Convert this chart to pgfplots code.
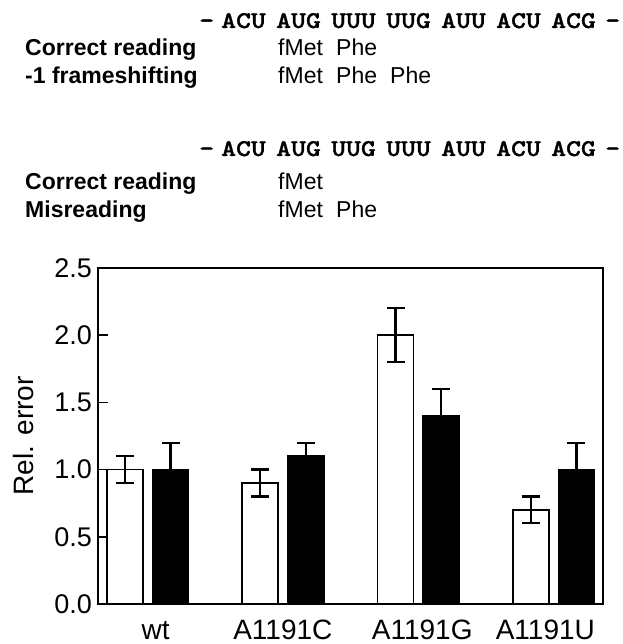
\documentclass[border=0pt]{standalone}
\usepackage{fontspec}
\setmainfont{Liberation Sans}
\newfontfamily\codfont[FakeBold=1.2]{lmmonolt10-bold.otf}
\usepackage{pgfplots}
\pgfplotsset{compat=1.18}
\begin{document}
\begin{tikzpicture}[x=1pt,y=1pt]
\def\codf{\fontsize{24}{24}\selectfont\codfont}
\def\labf{\fontsize{23}{23}\selectfont\bfseries}
\def\txtf{\fontsize{23}{23}\selectfont}
\tikzset{cod/.style={anchor=base west,inner sep=0pt,font=\codf,xscale=1.18,transform shape}}
% block 1
\foreach \x/\t in {199/-,221/ACU,276/AUG,331/UUU,386/UUG,441/AUU,496/ACU,551/ACG,605/-}
  \node[cod] at (\x,616) {\t};
\node[anchor=base west,inner sep=0pt,font=\labf] at (25,588) {Correct reading};
\node[anchor=base west,inner sep=0pt,font=\labf] at (25,560) {-1 frameshifting};
\node[anchor=base west,inner sep=0pt,font=\txtf] at (278,588) {fMet};
\node[anchor=base west,inner sep=0pt,font=\txtf] at (336,588) {Phe};
\node[anchor=base west,inner sep=0pt,font=\txtf] at (278,560) {fMet};
\node[anchor=base west,inner sep=0pt,font=\txtf] at (336,560) {Phe};
\node[anchor=base west,inner sep=0pt,font=\txtf] at (390,560) {Phe};
% block 2
\foreach \x/\t in {199/-,221/ACU,276/AUG,331/UUG,386/UUU,441/AUU,496/ACU,551/ACG,605/-}
  \node[cod] at (\x,488) {\t};
\node[anchor=base west,inner sep=0pt,font=\labf] at (25,454) {Correct reading};
\node[anchor=base west,inner sep=0pt,font=\labf] at (25,426) {Misreading};
\node[anchor=base west,inner sep=0pt,font=\txtf] at (278,454) {fMet};
\node[anchor=base west,inner sep=0pt,font=\txtf] at (278,426) {fMet};
\node[anchor=base west,inner sep=0pt,font=\txtf] at (336,426) {Phe};
\begin{axis}[
  at={(98pt,40pt)}, anchor=south west,
  scale only axis, width=505pt, height=336pt,
  xmin=-0.366, xmax=3.366, ymin=0, ymax=2.5,
  ytick={0,0.5,1,1.5,2,2.5},
  yticklabel style={/pgf/number format/fixed,/pgf/number format/fixed zerofill,/pgf/number format/precision=1,
    font=\fontsize{27}{27}\selectfont, inner sep=0pt, xshift=-6pt},
  /pgf/number format/assume math mode=true,
  xtick={0.06,1,2.03,2.94},
  xticklabels={wt,A1191C,A1191G,A1191U},
  xticklabel style={font=\fontsize{28}{28}\selectfont, anchor=base, inner sep=0pt, yshift=-35pt},
  x tick style={draw=none},
  ytick pos=left,
  tick align=inside,
  major tick length=10pt,
  y tick style={line width=1.5pt, black},
  axis line style={line width=1.5pt},
  ylabel={Rel. error},
  ylabel style={font=\fontsize{28}{28}\selectfont, at={(axis description cs:-0.148,0.5)}, anchor=center},
  error bars/error bar style={line width=2.2pt, black, solid},
  error bars/error mark options={rotate=90, mark size=9pt, line width=2.2pt, black, solid},
]
\addplot[ybar, bar width=36pt, bar shift=0pt, fill=white, draw=black, line width=1.5pt,
  error bars/.cd, y dir=both, y explicit]
  coordinates {(-0.167,1.0) +- (0,0.1) (0.833,0.9) +- (0,0.1) (1.833,2.0) +- (0,0.2) (2.833,0.7) +- (0,0.1)};
\addplot[ybar, bar width=36pt, bar shift=0pt, fill=black, draw=black, line width=1.5pt,
  error bars/.cd, y dir=plus, y explicit]
  coordinates {(0.17,1.0) +- (0,0.2) (1.17,1.1) +- (0,0.1) (2.17,1.4) +- (0,0.2) (3.17,1.0) +- (0,0.2)};
\end{axis}
\pgfresetboundingbox
\path[use as bounding box] (0,0) rectangle (622,644);
\end{tikzpicture}
\end{document}
